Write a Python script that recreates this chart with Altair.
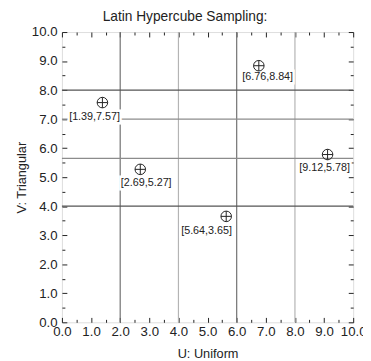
import altair as alt
import pandas as pd

# ---- data ----
u_vals = [1.39, 2.69, 5.64, 6.76, 9.12]
v_vals = [7.57, 5.27, 3.65, 8.84, 5.78]
point_labels = ["[1.39,7.57]", "[2.69,5.27]", "[5.64,3.65]", "[6.76,8.84]", "[9.12,5.78]"]

u_strata_dark = [2.0, 6.0]
u_strata_light = [4.0, 8.0]
v_strata_dark = [4.0, 8.0]
v_strata_light = [5.65, 7.0]

major_ticks = [0.0, 1.0, 2.0, 3.0, 4.0, 5.0, 6.0, 7.0, 8.0, 9.0, 10.0]
minor_ticks = [0.5, 1.5, 2.5, 3.5, 4.5, 5.5, 6.5, 7.5, 8.5, 9.5]

# ---- styling (not data) ----
FONT = "Liberation Sans"
INK = "#222222"
label_dx = [-8, 6, -20, 9, -3]
label_dy = [15, 14, 15, 12, 14]

pts = pd.DataFrame({"u": u_vals, "v": v_vals, "lab": point_labels})
pts["i"] = range(len(pts))

xs = alt.Scale(domain=[0, 10], nice=False, zero=False)
ys = alt.Scale(domain=[0, 10], nice=False, zero=False)


def tick_axis(orient, values, size):
    return alt.Axis(orient=orient, values=values, labels=False, domain=False,
                    grid=False, ticks=True, tickSize=size, offset=-size,
                    tickColor=INK, tickWidth=1, title=None)


def axis_layer(xaxis, yaxis):
    return alt.Chart(pts).mark_point(opacity=0).encode(
        x=alt.X("u:Q", scale=xs, axis=xaxis),
        y=alt.Y("v:Q", scale=ys, axis=yaxis),
    )


label_axes = axis_layer(
    alt.Axis(orient="bottom", values=major_ticks, format=".1f", ticks=False,
             domain=False, grid=False, labelFont=FONT, labelFontSize=13.5,
             labelColor=INK, labelPadding=2, labelFlush=False, labelOverlap=False,
             title="U: Uniform", titleFont=FONT, titleFontSize=13,
             titleFontWeight="normal", titleColor=INK, titlePadding=10),
    alt.Axis(orient="left", values=major_ticks, format=".1f", ticks=False,
             domain=False, grid=False, labelFont=FONT, labelFontSize=13.5,
             labelColor=INK, labelPadding=5, labelFlush=False, labelOverlap=False,
             title="V: Triangular", titleFont=FONT, titleFontSize=13,
             titleFontWeight="normal", titleColor=INK, titlePadding=3),
)
major_bl = axis_layer(tick_axis("bottom", major_ticks, 5), tick_axis("left", major_ticks, 5))
minor_bl = axis_layer(tick_axis("bottom", minor_ticks, 3), tick_axis("left", minor_ticks, 3))
major_tr = axis_layer(tick_axis("top", major_ticks, 5), tick_axis("right", major_ticks, 5))
minor_tr = axis_layer(tick_axis("top", minor_ticks, 3), tick_axis("right", minor_ticks, 3))


def vrules(vals, color):
    return alt.Chart(pd.DataFrame({"u": vals})).mark_rule(
        color=color, strokeWidth=1.2).encode(x=alt.X("u:Q", scale=xs, axis=None))


def hrules(vals, color):
    return alt.Chart(pd.DataFrame({"v": vals})).mark_rule(
        color=color, strokeWidth=1.2).encode(y=alt.Y("v:Q", scale=ys, axis=None))


grid = [vrules(u_strata_light, "#b4b4b4"), vrules(u_strata_dark, "#707070"),
        hrules(v_strata_light, "#8c8c8c"), hrules(v_strata_dark, "#555555")]

base = alt.Chart(pts).encode(
    x=alt.X("u:Q", scale=xs, axis=None),
    y=alt.Y("v:Q", scale=ys, axis=None),
)

circles = base.mark_point(shape="circle", filled=False, size=115,
                          color=INK, strokeWidth=1, opacity=1)
crosses = base.mark_point(shape="M-1,0L1,0M0,-1L0,1", filled=False, size=115,
                          color=INK, strokeWidth=1, opacity=1)

text_layers = []
for i in range(len(pts)):
    sel = base.transform_filter(alt.datum.i == i)
    text_layers.append(sel.mark_text(font=FONT, fontSize=11, baseline="middle",
                                     dx=label_dx[i], dy=label_dy[i], stroke="white",
                                     strokeWidth=5, color="white").encode(text="lab:N"))
    text_layers.append(sel.mark_text(font=FONT, fontSize=11, baseline="middle",
                                     dx=label_dx[i], dy=label_dy[i],
                                     color=INK).encode(text="lab:N"))

chart = alt.layer(
    *grid, *text_layers, circles, crosses,
    label_axes, major_bl, minor_bl, major_tr, minor_tr,
).resolve_axis(x="independent", y="independent").properties(
    width=297, height=296,
    title=alt.TitleParams("Latin Hypercube Sampling:", font=FONT, fontSize=14,
                          fontWeight="normal", color=INK, anchor="middle",
                          dx=-23, offset=1),
    autosize=alt.AutoSizeParams(type="none"),
    padding={"left": 55, "top": 21, "right": 10, "bottom": 40},
).configure_view(stroke=INK, strokeWidth=1).configure(background="white")

chart.save("out.html", embed_options={"renderer": "svg", "actions": False})
